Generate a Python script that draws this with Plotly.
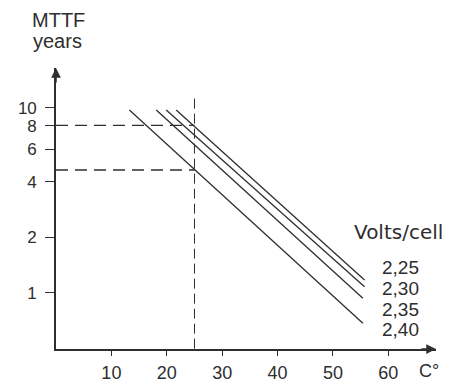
import plotly.graph_objects as go

# Data
voltages = ["2,25", "2,30", "2,35", "2,40"]
temp_start = [21.7, 19.9, 18.1, 13.25]
temp_end = [55.7, 55.7, 55.4, 55.4]
mttf_start = [9.75, 9.75, 9.75, 9.75]
mttf_end = [1.175, 1.08, 0.936, 0.686]

ref_temp = 25
ref_mttf = [8.05, 4.62]

y_ticks = [1, 2, 4, 6, 8, 10]
x_ticks = [10, 20, 30, 40, 50, 60]

INK = "#2e2e2e"
FONT = "Liberation Sans, Arial, sans-serif"

fig = go.Figure()

for v, x0, x1, y0, y1 in zip(voltages, temp_start, temp_end, mttf_start, mttf_end):
    fig.add_trace(go.Scatter(x=[x0, x1], y=[y0, y1], mode="lines",
                             line=dict(color=INK, width=1.3), name=v,
                             showlegend=False, hoverinfo="skip"))

# reference dashed lines
for m in ref_mttf:
    fig.add_trace(go.Scatter(x=[0, ref_temp], y=[m, m], mode="lines",
                             line=dict(color=INK, width=1.3, dash="12px,7px"),
                             showlegend=False, hoverinfo="skip"))
fig.add_trace(go.Scatter(x=[ref_temp, ref_temp], y=[0.5, 11.75], mode="lines",
                         line=dict(color=INK, width=1.0, dash="10px,5px"),
                         showlegend=False, hoverinfo="skip"))

W, H = 450, 385
L, R, T, B = 56, 14, 68, 36

fig.update_layout(
    width=W, height=H,
    margin=dict(l=L, r=R, t=T, b=B, autoexpand=False),
    paper_bgcolor="white", plot_bgcolor="white",
    font=dict(family=FONT, size=18, color=INK),
    xaxis=dict(range=[0, 68.6], tickvals=x_ticks, ticktext=[str(t) for t in x_ticks],
               showgrid=False, zeroline=False, showline=True, linecolor=INK, linewidth=1.6,
               ticks="outside", ticklen=5, tickcolor=INK, tickwidth=1.2,
               ticklabelstandoff=2, automargin=False,
               tickfont=dict(family=FONT, size=18, color=INK)),
    yaxis=dict(type="log", range=[-0.303, 1.216], tickvals=y_ticks,
               ticktext=[str(t) for t in y_ticks],
               showgrid=False, zeroline=False, showline=True, linecolor=INK, linewidth=1.6,
               ticks="outside", ticklen=9, tickcolor=INK, tickwidth=1.2,
               ticklabelstandoff=5, automargin=False,
               tickfont=dict(family=FONT, size=17, color=INK)),
)

# axis arrowheads
fig.add_annotation(x=0, y=1, xref="x", yref="paper", ax=0, ay=16, text="",
                   showarrow=True, arrowhead=2, arrowsize=1.3, arrowwidth=1.5, arrowcolor=INK)
fig.add_annotation(x=1, y=0, xref="paper", yref="y domain", ax=-16, ay=0, text="",
                   showarrow=True, arrowhead=2, arrowsize=1.3, arrowwidth=1.5, arrowcolor=INK)

pw, ph = W - L - R, H - T - B

def px2paper(px, py):
    return (px - L) / pw, 1 - (py - T) / ph

def add_text(text, px, py, size, family=FONT):
    xp, yp = px2paper(px, py)
    fig.add_annotation(x=xp, y=yp, xref="paper", yref="paper", text=text, showarrow=False,
                       xanchor="center", yanchor="middle", borderpad=0,
                       font=dict(family=family, size=size, color=INK))

add_text("MTTF", 58, 20, 20)
add_text("years", 57, 41, 20)
add_text("C°", 429, 371, 18)
add_text("Volts/cell", 398, 232, 20, "DejaVu Sans, sans-serif")
label_y = [267, 288, 309, 329]
for v, py in zip(voltages, label_y):
    add_text(v, 400, py, 19)

fig.write_html("out.html", config={"displayModeBar": False},
               post_script="document.body.style.margin='0px';")
